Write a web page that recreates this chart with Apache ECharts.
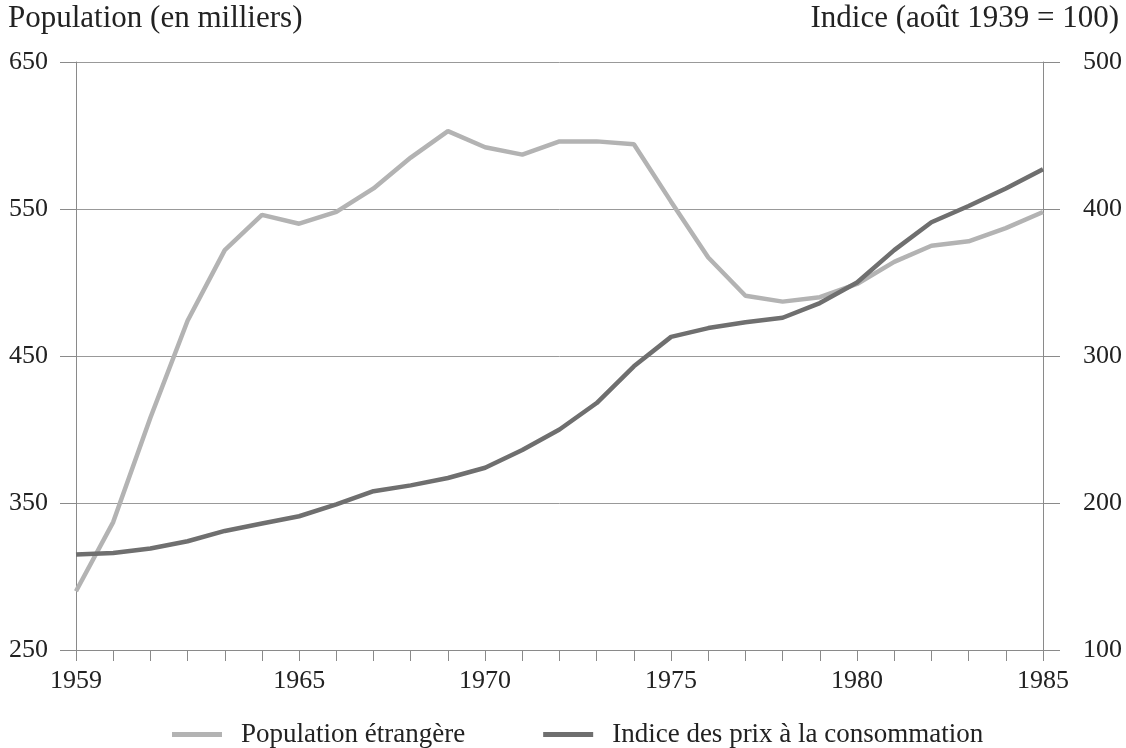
<!DOCTYPE html>
<html>
<head>
<meta charset="utf-8">
<script src="https://cdn.jsdelivr.net/npm/echarts@6/dist/echarts.min.js"></script>
<style>
  html, body { margin: 0; padding: 0; background: #fff; }
  #chart { width: 1126px; height: 748px; }
</style>
</head>
<body>
<div id="chart"></div>
<script>
// années
var years = [1959, 1960, 1961, 1962, 1963, 1964, 1965, 1966, 1967, 1968, 1969, 1970, 1971,
  1972, 1973, 1974, 1975, 1976, 1977, 1978, 1979, 1980, 1981, 1982, 1983, 1984, 1985];
// population étrangère (en milliers) - axe de gauche
var population = [290, 337, 408, 474, 522, 546, 540, 548, 564, 585, 603, 592, 587,
  596, 596, 594, 555, 517, 491, 487, 490, 499, 514, 525, 528, 537, 548];
// indice des prix (août 1939 = 100) - axe de droite
var indicePrix = [165, 166, 169, 174, 181, 186, 191, 199, 208, 212, 217, 224, 236,
  250, 268, 293, 313, 319, 323, 326, 336, 350, 372, 391, 402, 414, 427];
// années affichées sous l'axe
var yearLabels = [1959, 1965, 1970, 1975, 1980, 1985];
var leftTicks = [250, 350, 450, 550, 650];
var rightTicks = [100, 200, 300, 400, 500];

var serif = "'Liberation Serif', 'DejaVu Serif', serif";
var textColor = "#222";
var axisColor = "#8a8a8a";

var myChart = echarts.init(document.getElementById("chart"));
var option = {
  backgroundColor: "#fff",
  animation: false,
  textStyle: { fontFamily: serif },
  title: [
    {
      text: "Population (en milliers)",
      left: 8, top: 3, padding: 0,
      textStyle: { fontSize: 31, fontWeight: "normal", fontFamily: serif, color: textColor },
    },
    {
      text: "Indice (août 1939 = 100)",
      right: 7, top: 3, padding: 0,
      textStyle: { fontSize: 31, fontWeight: "normal", fontFamily: serif, color: textColor },
    },
  ],
  grid: { left: 76, right: 83, top: 62, bottom: 98 },
  legend: {
    left: 167,
    top: 716,
    itemWidth: 50,
    itemHeight: 5,
    itemGap: 78,
    icon: "rect",
    textStyle: { fontSize: 27, fontFamily: serif, color: textColor, padding: [0, 0, 0, 14] },
    data: ["Population étrangère", "Indice des prix à la consommation"],
  },
  xAxis: {
    type: "value",
    min: years[0],
    max: years[years.length - 1],
    interval: 1,
    axisLine: { show: true, lineStyle: { color: axisColor, width: 1 } },
    axisTick: { show: true, length: 11, lineStyle: { color: axisColor } },
    splitLine: { show: false },
    axisLabel: {
      margin: 18,
      fontSize: 26,
      fontFamily: serif,
      color: textColor,
      formatter: function (v) {
        return yearLabels.indexOf(v) >= 0 ? String(v) : "";
      },
    },
  },
  yAxis: [
    {
      type: "value",
      position: "left",
      min: leftTicks[0],
      max: leftTicks[leftTicks.length - 1],
      interval: 100,
      axisLine: { show: true, lineStyle: { color: axisColor, width: 1 } },
      axisTick: { show: true, length: 16, lineStyle: { color: axisColor } },
      splitLine: { show: true, lineStyle: { color: "#999", width: 1 } },
      axisLabel: { margin: 28, fontSize: 26, fontFamily: serif, color: textColor },
    },
    {
      type: "value",
      position: "right",
      min: rightTicks[0],
      max: rightTicks[rightTicks.length - 1],
      interval: 100,
      axisLine: { show: true, lineStyle: { color: axisColor, width: 1 } },
      axisTick: { show: true, length: 17, lineStyle: { color: axisColor } },
      splitLine: { show: false },
      axisLabel: { margin: 40, fontSize: 26, fontFamily: serif, color: textColor },
    },
  ],
  series: [
    {
      name: "Population étrangère",
      type: "line",
      yAxisIndex: 0,
      showSymbol: false,
      color: "#b3b3b3",
      lineStyle: { color: "#b3b3b3", width: 4.5 },
      data: years.map(function (y, i) { return [y, population[i]]; }),
    },
    {
      name: "Indice des prix à la consommation",
      type: "line",
      yAxisIndex: 1,
      showSymbol: false,
      color: "#6f6f6f",
      lineStyle: { color: "#6f6f6f", width: 4.5 },
      data: years.map(function (y, i) { return [y, indicePrix[i]]; }),
    },
  ],
};
option && myChart.setOption(option);
</script>
</body>
</html>
